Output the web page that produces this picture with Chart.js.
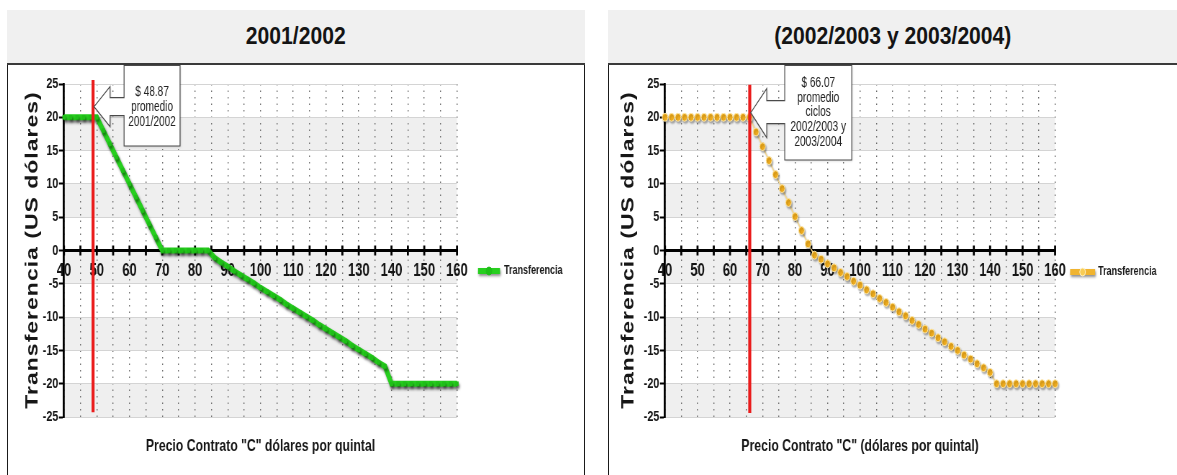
<!DOCTYPE html>
<html>
<head>
<meta charset="utf-8">
<script src="https://cdn.jsdelivr.net/npm/chart.js@4.4.1/dist/chart.umd.min.js"></script>
<style>
  html, body { margin: 0; padding: 0; background: #fff; width: 1177px; height: 475px; overflow: hidden; }
  .head { position: absolute; top: 10px; height: 53px; background: #f0f0f0; color: #141414; text-align: center; }
  .head span { display: inline-block; font: bold 24px "Liberation Sans", Arial, sans-serif; line-height: 52px;
               transform: scaleX(0.88); transform-origin: 50% 50%; }
  .rule { position: absolute; top: 63px; height: 2px; background: #3a3a3a; }
  .box  { position: absolute; top: 65px; height: 420px; border-left: 1px solid #1a1a1a; overflow: hidden; }
  .box canvas { position: absolute; left: 0; top: 0; transform-origin: 0 0; }
</style>
</head>
<body>
  <div class="head" style="left:7px;width:578px;"><span>2001/2002</span></div>
  <div class="rule" style="left:7px;width:578px;"></div>
  <div class="box" style="left:7px;width:576px;border-right:1px solid #1a1a1a;">
    <canvas id="c2001" width="800" height="410"></canvas>
  </div>

  <div class="head" style="left:608px;width:569px;"><span>(2002/2003 y 2003/2004)</span></div>
  <div class="rule" style="left:608px;width:569px;"></div>
  <div class="box" style="left:608px;width:569px;">
    <canvas id="c2002" width="789" height="410"></canvas>
  </div>

<script>
// ---- data -------------------------------------------------------------
const prices = [40, 42, 44, 46, 48, 50, 52, 54, 56, 58, 60, 62, 64, 66, 68, 70, 72, 74, 76, 78,
                80, 82, 84, 86, 88, 90, 92, 94, 96, 98, 100, 102, 104, 106, 108, 110, 112, 114, 116, 118,
                120, 122, 124, 126, 128, 130, 132, 134, 136, 138, 140, 142, 144, 146, 148, 150, 152, 154, 156, 158, 160];

const transfer2001 = [20, 20, 20, 20, 20, 20, 18, 16, 14, 12, 10, 8, 6, 4, 2, 0, 0, 0, 0, 0,
                      0, 0, 0, -1.1, -1.8, -2.4, -3.1, -3.7, -4.3, -4.9, -5.6, -6.2, -6.8, -7.4, -8.1, -8.7, -9.3, -9.9, -10.5, -11.2,
                      -11.8, -12.4, -13.0, -13.6, -14.3, -14.9, -15.5, -16.1, -16.8, -17.4, -20, -20, -20, -20, -20, -20, -20, -20, -20, -20, -20];

const transfer2002 = [20, 20, 20, 20, 20, 20, 20, 20, 20, 20, 20, 20, 20, 20, 17.8, 15.6, 13.5, 11.4, 9.3, 7.2,
                      5.1, 3.0, 1.0, -0.7, -1.3, -2.0, -2.6, -3.3, -3.9, -4.6, -5.2, -5.9, -6.5, -7.2, -7.8, -8.5, -9.2, -9.8, -10.5, -11.1,
                      -11.8, -12.4, -13.1, -13.7, -14.4, -15.0, -15.7, -16.3, -17.0, -17.6, -18.3, -20, -20, -20, -20, -20, -20, -20, -20, -20, -20];

const xLabelValues = [40, 50, 60, 70, 80, 90, 100, 110, 120, 130, 140, 150, 160];
const shadedBands = [[15, 20], [5, 10], [-5, 0], [-15, -10], [-25, -20]];

const seriesName = 'Transferencia';
const yTitle = 'Transferencia (US dólares)';
const xTitle2001 = 'Precio Contrato "C" dólares por quintal';
const xTitle2002 = 'Precio Contrato "C" (dólares por quintal)';

const average2001 = 48.87;
const average2002 = 66.07;
const calloutText2001 = ['$ 48.87', 'promedio', '2001/2002'];
const calloutText2002 = ['$ 66.07', 'promedio', 'ciclos', '2002/2003 y', '2003/2004'];

// ---- drawing helpers --------------------------------------------------
// The canvases are drawn wide and squeezed horizontally, which gives the
// condensed lettering and slightly tall markers of the panels.
const SQUEEZE = 0.72;
const L = v => v / SQUEEZE;            // on-screen horizontal px -> canvas px
const SANS = '"Liberation Sans", Arial, sans-serif';

// background bands, crossing ticks on the zero line, average marker, callout, legend, titles
const panelDecor = {
  id: 'panelDecor',
  beforeDraw(chart) {
    const { ctx, chartArea: a, scales: { y } } = chart;
    ctx.save();
    ctx.fillStyle = '#efefef';
    for (const [lo, hi] of shadedBands) {
      const top = y.getPixelForValue(hi), bot = y.getPixelForValue(lo);
      ctx.fillRect(a.left, top, a.right - a.left, bot - top);
    }
    ctx.restore();
  },
  beforeDatasetsDraw(chart) {
    const { ctx, scales: { x, y } } = chart;
    const y0 = y.getPixelForValue(0);
    ctx.save();
    ctx.strokeStyle = '#000';
    ctx.lineWidth = L(2);
    for (const t of x.ticks) {
      const px = x.getPixelForValue(t.value);
      ctx.beginPath();
      ctx.moveTo(px, y0 - 5);
      ctx.lineTo(px, y0 + 5);
      ctx.stroke();
    }
    ctx.restore();
  },
  afterDatasetsDraw(chart, args, o) {
    const { ctx, scales: { x, y } } = chart;
    const px = x.getPixelForValue(o.average);
    ctx.save();
    ctx.strokeStyle = '#ea1c1c';
    ctx.lineWidth = L(3);
    ctx.beginPath();
    ctx.moveTo(px, y.getPixelForValue(o.markTop));
    ctx.lineTo(px, y.getPixelForValue(o.markBottom));
    ctx.stroke();
    ctx.restore();
  },
  afterDraw(chart, args, o) {
    const { ctx, chartArea: a, scales: { x, y } } = chart;
    const c = o.callout;

    // arrow callout pointing at the average line
    const tx = x.getPixelForValue(o.average) + L(1);
    const ty = y.getPixelForValue(c.tipValue);
    const bl = tx + L(c.boxGap), br = bl + L(c.boxWidth), wx = tx + L(c.headLen);
    ctx.save();
    ctx.beginPath();
    ctx.moveTo(bl, 0.5);
    ctx.lineTo(br, 0.5);
    ctx.lineTo(br, c.boxBottom);
    ctx.lineTo(bl, c.boxBottom);
    ctx.lineTo(bl, ty + c.shaftBelow);
    ctx.lineTo(wx, ty + c.shaftBelow);
    ctx.lineTo(wx, ty + c.wingBelow);
    ctx.lineTo(tx, ty);
    ctx.lineTo(wx, ty - c.wingAbove);
    ctx.lineTo(wx, ty - c.shaftAbove);
    ctx.lineTo(bl, ty - c.shaftAbove);
    ctx.closePath();
    ctx.shadowColor = 'rgba(0,0,0,0.18)';
    ctx.shadowBlur = 3;
    ctx.shadowOffsetX = 1;
    ctx.shadowOffsetY = 1;
    ctx.fillStyle = '#fff';
    ctx.fill();
    ctx.shadowColor = 'transparent';
    ctx.strokeStyle = '#4a4a4a';
    ctx.lineWidth = 1.2;
    ctx.stroke();
    ctx.fillStyle = '#222';
    ctx.font = '14px ' + SANS;
    ctx.textAlign = 'center';
    ctx.textBaseline = 'middle';
    c.lines.forEach((t, i) => ctx.fillText(t, (bl + br) / 2, c.firstLine + i * c.lineStep));
    ctx.restore();

    // legend entry
    const lg = o.legend;
    const lx0 = a.right + L(lg.from), lx1 = a.right + L(lg.to), ly = lg.y;
    ctx.save();
    ctx.shadowColor = 'rgba(0,0,0,0.45)';
    ctx.shadowBlur = 3;
    ctx.shadowOffsetX = 1;
    ctx.shadowOffsetY = 2;
    ctx.strokeStyle = lg.color;
    ctx.lineWidth = 6;
    ctx.beginPath();
    ctx.moveTo(lx0, ly);
    ctx.lineTo(lx1, ly);
    ctx.stroke();
    ctx.shadowColor = 'transparent';
    ctx.fillStyle = lg.dot;
    ctx.strokeStyle = lg.dotEdge;
    ctx.lineWidth = 1;
    ctx.beginPath();
    ctx.arc((lx0 + lx1) / 2, ly, 4, 0, Math.PI * 2);
    ctx.fill();
    ctx.stroke();
    ctx.fillStyle = '#1a1a1a';
    ctx.font = 'bold 12.5px ' + SANS;
    ctx.textAlign = 'left';
    ctx.textBaseline = 'middle';
    ctx.fillText(seriesName, a.right + L(lg.text), ly);
    ctx.restore();

    // axis titles
    ctx.save();
    ctx.fillStyle = '#161616';
    ctx.font = 'bold 17px ' + SANS;
    ctx.textAlign = 'center';
    ctx.textBaseline = 'middle';
    ctx.fillText(o.xTitle, (a.left + a.right) / 2, o.xTitleY);
    ctx.translate(L(o.yTitleX), (a.top + a.bottom) / 2);
    ctx.rotate(-Math.PI / 2);
    ctx.font = 'bold 23px ' + SANS;
    ctx.letterSpacing = '1px';
    ctx.fillText(yTitle, 0.5, 0);
    ctx.restore();
  }
};

// soft drop shadow under the data series
const seriesShadow = {
  id: 'seriesShadow',
  beforeDatasetDraw(chart, args, o) {
    const ctx = chart.ctx;
    ctx.save();
    ctx.shadowColor = o.color;
    ctx.shadowBlur = o.blur;
    ctx.shadowOffsetX = o.dx;
    ctx.shadowOffsetY = o.dy;
  },
  afterDatasetDraw(chart) {
    chart.ctx.restore();
  }
};

function buildPanel(canvasId, values, look) {
  const canvas = document.getElementById(canvasId);
  canvas.style.transform = 'scaleX(' + SQUEEZE + ')';
  return new Chart(canvas, {
    type: 'line',
    data: {
      datasets: [Object.assign({
        label: seriesName,
        data: prices.map((p, i) => ({ x: p, y: values[i] })),
        clip: false,
        tension: 0
      }, look.series)]
    },
    options: {
      responsive: false,
      animation: false,
      devicePixelRatio: 1,
      layout: { padding: { left: 0, top: 19, right: L(look.padRight), bottom: 58 } },
      plugins: {
        legend: { display: false },
        tooltip: { enabled: false },
        seriesShadow: look.shadow,
        panelDecor: look.decor
      },
      scales: {
        x: {
          type: 'linear',
          min: 40,
          max: 160,
          position: { y: 0 },
          ticks: {
            stepSize: 5,
            autoSkip: false,
            maxRotation: 0,
            padding: 10,
            color: '#151515',
            font: { family: SANS, size: 18, weight: 'bold' },
            callback: v => (xLabelValues.includes(v) ? String(v) : '')
          },
          grid: { color: '#6c6c6c', lineWidth: L(1), drawTicks: false },
          border: { display: true, color: '#000', width: 3, dash: [1.5, 5] }
        },
        y: {
          type: 'linear',
          min: -25,
          max: 25,
          ticks: {
            stepSize: 5,
            padding: 1,
            color: '#151515',
            font: { family: SANS, size: 15, weight: 'bold' }
          },
          grid: { color: '#d4d4d4', lineWidth: 1, tickColor: '#000', tickLength: L(5), tickWidth: 2 },
          border: { display: true, color: '#000', width: L(2) },
          afterFit: s => { s.width = L(56); }
        }
      }
    },
    plugins: [seriesShadow, panelDecor]
  });
}

buildPanel('c2001', transfer2001, {
  padRight: 127,
  series: {
    borderColor: '#27cf1f',
    borderWidth: 6,
    pointStyle: 'rect',
    pointRadius: 3.2,
    pointBackgroundColor: '#1fbf18',
    pointBorderWidth: 0
  },
  shadow: { color: 'rgba(0,0,0,0.5)', blur: 3, dx: 1.5, dy: 2.5 },
  decor: {
    average: average2001,
    markTop: 25.6,
    markBottom: -24.3,
    xTitle: xTitle2001,
    xTitleY: 381,
    yTitleX: 25,
    callout: {
      lines: calloutText2001, tipValue: 21.6, boxGap: 30, boxWidth: 56, headLen: 16,
      boxBottom: 81, shaftAbove: 9, shaftBelow: 9, wingAbove: 20, wingBelow: 20,
      firstLine: 27, lineStep: 15
    },
    legend: { from: 21, to: 43, text: 47, y: 206, color: '#27cf1f', dot: '#1fbf18', dotEdge: '#1fbf18' }
  }
});

buildPanel('c2002', transfer2002, {
  padRight: 122,
  series: {
    showLine: true,
    borderColor: '#f6d98e',
    borderWidth: 1.5,
    pointStyle: 'circle',
    pointRadius: 4,
    pointBackgroundColor: '#efac1e',
    pointBorderColor: '#fde7a8',
    pointBorderWidth: 1
  },
  shadow: { color: 'rgba(0,0,0,0.28)', blur: 2, dx: 1.5, dy: 2 },
  decor: {
    average: average2002,
    markTop: 24.9,
    markBottom: -24.4,
    xTitle: xTitle2002,
    xTitleY: 381,
    yTitleX: 20,
    callout: {
      lines: calloutText2002, tipValue: 20.7, boxGap: 34, boxWidth: 67, headLen: 16,
      boxBottom: 95, shaftAbove: 12, shaftBelow: 11, wingAbove: 24, wingBelow: 25,
      firstLine: 18, lineStep: 14.8
    },
    legend: { from: 15, to: 40, text: 43, y: 207, color: '#f0b430', dot: '#f8cc55', dotEdge: '#fff2c8' }
  }
});
</script>
</body>
</html>
